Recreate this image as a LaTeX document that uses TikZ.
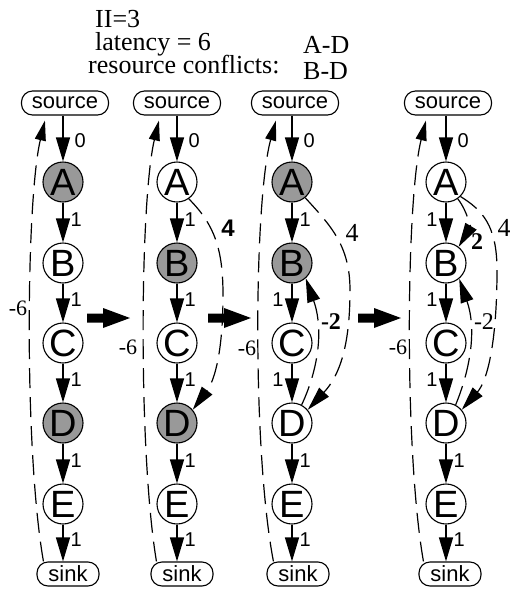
\documentclass[tikz,border=0pt]{standalone}
\usepackage{fontspec}
\setmainfont{Liberation Serif}
\newfontfamily\hv{Liberation Sans}
\usetikzlibrary{arrows.meta,calc}
\tikzset{
  opnode/.style={circle,draw,line width=1.1pt,minimum size=40pt,inner sep=0pt,font=\hv\fontsize{38}{38}\selectfont},
  shaded/.style={fill=black!40},
  terminal/.style={draw,line width=1.1pt,rounded corners=11pt,minimum height=24pt,inner sep=0pt,font=\hv\fontsize{22}{22}\selectfont},
  srcnode/.style={terminal,minimum width=87pt},
  sinknode/.style={terminal,minimum width=62pt},
  vedge/.style={line width=1.2pt,-{Triangle[length=24pt,width=14pt]}},
  dashedge/.style={line width=1.2pt,dash pattern=on 20pt off 9pt},
  backedge/.style={dashedge,-{Triangle[length=20pt,width=11pt]}},
  fwdedge/.style={dashedge,-{Triangle[length=24pt,width=13pt]}},
  wlab/.style={font=\hv\fontsize{20}{20}\selectfont,inner sep=0pt,pos=0.42},
  rlab/.style={wlab,anchor=west,xshift=7pt},
  llab/.style={wlab,anchor=east,xshift=-8pt},
  tlab/.style={font=\fontsize{22}{22}\selectfont,inner sep=0pt},
  blab/.style={font=\bfseries\fontsize{24}{24}\selectfont,inner sep=0pt},
  hdr/.style={inner sep=0pt,anchor=base west,align=left},
  fatarrow/.pic={\fill (0,-4.5) -- (16,-4.5) -- (16,-10) -- (43,0) -- (16,10) -- (16,4.5) -- (0,4.5) -- cycle;}
}
\begin{document}
\begin{tikzpicture}[x=1pt,y=-1pt]
\useasboundingbox (0,0) rectangle (510,595);
% header (anchor = baseline of the last line)
\node[hdr,font={\fontsize{26}{23}\selectfont\lineskiplimit=-30pt}] (h1) at (88,73)
  {\hspace*{7pt}II=3\\\hspace*{7pt}latency = 6\\resource conflicts:};
\node[hdr,font={\fontsize{26}{26}\selectfont\lineskiplimit=-30pt}] (h2) at (303,79) {A-D\\B-D};

% ---------- graph 1
\node[srcnode] (so1) at (65,103) {source};
\node[opnode,shaded] (A1) at (63,182) {A};
\node[opnode] (B1) at (63,263) {B};
\node[opnode] (C1) at (63,343) {C};
\node[opnode,shaded] (D1) at (63,423) {D};
\node[opnode] (E1) at (63,504) {E};
\node[sinknode] (si1) at (68,574) {sink};
\draw[vedge] (so1.south -| A1) -- node[rlab,pos=0.55,xshift=4pt]{0} (A1);
\draw[vedge] (A1) -- node[rlab]{1} (B1);
\draw[vedge] (B1) -- node[rlab]{1} (C1);
\draw[vedge] (C1) -- node[rlab]{1} (D1);
\draw[vedge] (D1) -- node[rlab]{1} (E1);
\draw[vedge] (E1) -- node[rlab]{1} (E1 |- si1.north);
\draw[backedge] ($(si1.north west)+(7,0)$) .. controls (24,450) and (26,200) .. ($(so1.south west)+(24,5)$);
\node[tlab] (m1) at (18,308) {-6};

% ---------- graph 2
\node[srcnode] (so2) at (177,103) {source};
\node[opnode] (A2) at (177,182) {A};
\node[opnode,shaded] (B2) at (177,263) {B};
\node[opnode] (C2) at (177,343) {C};
\node[opnode,shaded] (D2) at (177,423) {D};
\node[opnode] (E2) at (177,504) {E};
\node[sinknode] (si2) at (182,574) {sink};
\draw[vedge] (so2.south -| A2) -- node[rlab,pos=0.55,xshift=4pt]{0} (A2);
\draw[vedge] (A2) -- node[rlab]{1} (B2);
\draw[vedge] (B2) -- node[rlab]{1} (C2);
\draw[vedge] (C2) -- node[rlab]{1} (D2);
\draw[vedge] (D2) -- node[rlab]{1} (E2);
\draw[vedge] (E2) -- node[rlab]{1} (E2 |- si2.north);
\draw[backedge] ($(si2.north west)+(6,0)$) .. controls (138,450) and (140,200) .. ($(so2.south west)+(26,5)$);
\node[tlab] (m2) at (128,347) {-6};
\draw[fwdedge] (A2.-55) .. controls (215,225) and (223,250) .. (223,295) .. controls (223,350) and (215,380) .. (D2.40);
\node[font=\hv\bfseries\fontsize{24}{24}\selectfont,inner sep=0pt] (w2) at (228,228) {4};

% ---------- graph 3
\node[srcnode] (so3) at (295,103) {source};
\node[opnode,shaded] (A3) at (292,182) {A};
\node[opnode,shaded] (B3) at (292,263) {B};
\node[opnode] (C3) at (292,343) {C};
\node[opnode] (D3) at (292,423) {D};
\node[opnode] (E3) at (292,504) {E};
\node[sinknode] (si3) at (298,574) {sink};
\draw[vedge] (so3.south -| A3) -- node[rlab,pos=0.55,xshift=4pt]{0} (A3);
\draw[vedge] (A3) -- node[rlab]{1} (B3);
\draw[vedge] (B3) -- node[llab]{1} (C3);
\draw[vedge] (C3) -- node[llab]{1} (D3);
\draw[vedge] (D3) -- node[rlab]{1} (E3);
\draw[vedge] (E3) -- node[rlab]{1} (E3 |- si3.north);
\draw[backedge] ($(si3.north west)+(7,0)$) .. controls (252,450) and (254,200) .. ($(so3.south west)+(25,5)$);
\node[tlab] (m3) at (247,348) {-6};
\draw[fwdedge] (A3.-50) .. controls (330,225) and (350,245) .. (350,290) .. controls (350,345) and (340,375) .. (D3.40);
\node[tlab,font=\fontsize{26}{26}\selectfont] (w3) at (352,233) {4};
\draw[fwdedge] (D3.62) .. controls (318,370) and (324,330) .. (B3.-48);
\node[blab] (v3) at (331,322) {-2};

% ---------- graph 4
\node[srcnode] (so4) at (448,103) {source};
\node[opnode] (A4) at (446,182) {A};
\node[opnode] (B4) at (446,263) {B};
\node[opnode] (C4) at (446,343) {C};
\node[opnode] (D4) at (446,423) {D};
\node[opnode] (E4) at (446,504) {E};
\node[sinknode] (si4) at (450,574) {sink};
\draw[vedge] (so4.south -| A4) -- node[rlab,pos=0.55,xshift=4pt]{0} (A4);
\draw[vedge] (A4) -- node[llab]{1} (B4);
\draw[vedge] (B4) -- node[llab]{1} (C4);
\draw[vedge] (C4) -- node[llab]{1} (D4);
\draw[vedge] (D4) -- node[rlab]{1} (E4);
\draw[vedge] (E4) -- node[rlab]{1} (E4 |- si4.north);
\draw[backedge] ($(si4.north west)+(5,0)$) .. controls (404,450) and (406,200) .. ($(so4.south west)+(22,5)$);
\node[tlab] (m4) at (398,347) {-6};
\draw[fwdedge] (A4.-55) .. controls (468,212) and (470,228) .. (B4.52);
\node[blab] (u4) at (477,242) {2};
\draw[fwdedge] (A4.-45) .. controls (482,210) and (497,225) .. (497,270) .. controls (497,340) and (488,380) .. (D4.40);
\node[tlab,font=\fontsize{26}{26}\selectfont] (w4) at (504,228) {4};
\draw[fwdedge] (D4.62) .. controls (470,370) and (477,330) .. (B4.-50);
\node[tlab,font=\fontsize{24}{24}\selectfont] (v4) at (484,322) {-2};

% ---------- transition arrows
\pic at (87,318) {fatarrow};
\pic at (208,318) {fatarrow};
\pic at (358,318) {fatarrow};
\end{tikzpicture}
\end{document}
